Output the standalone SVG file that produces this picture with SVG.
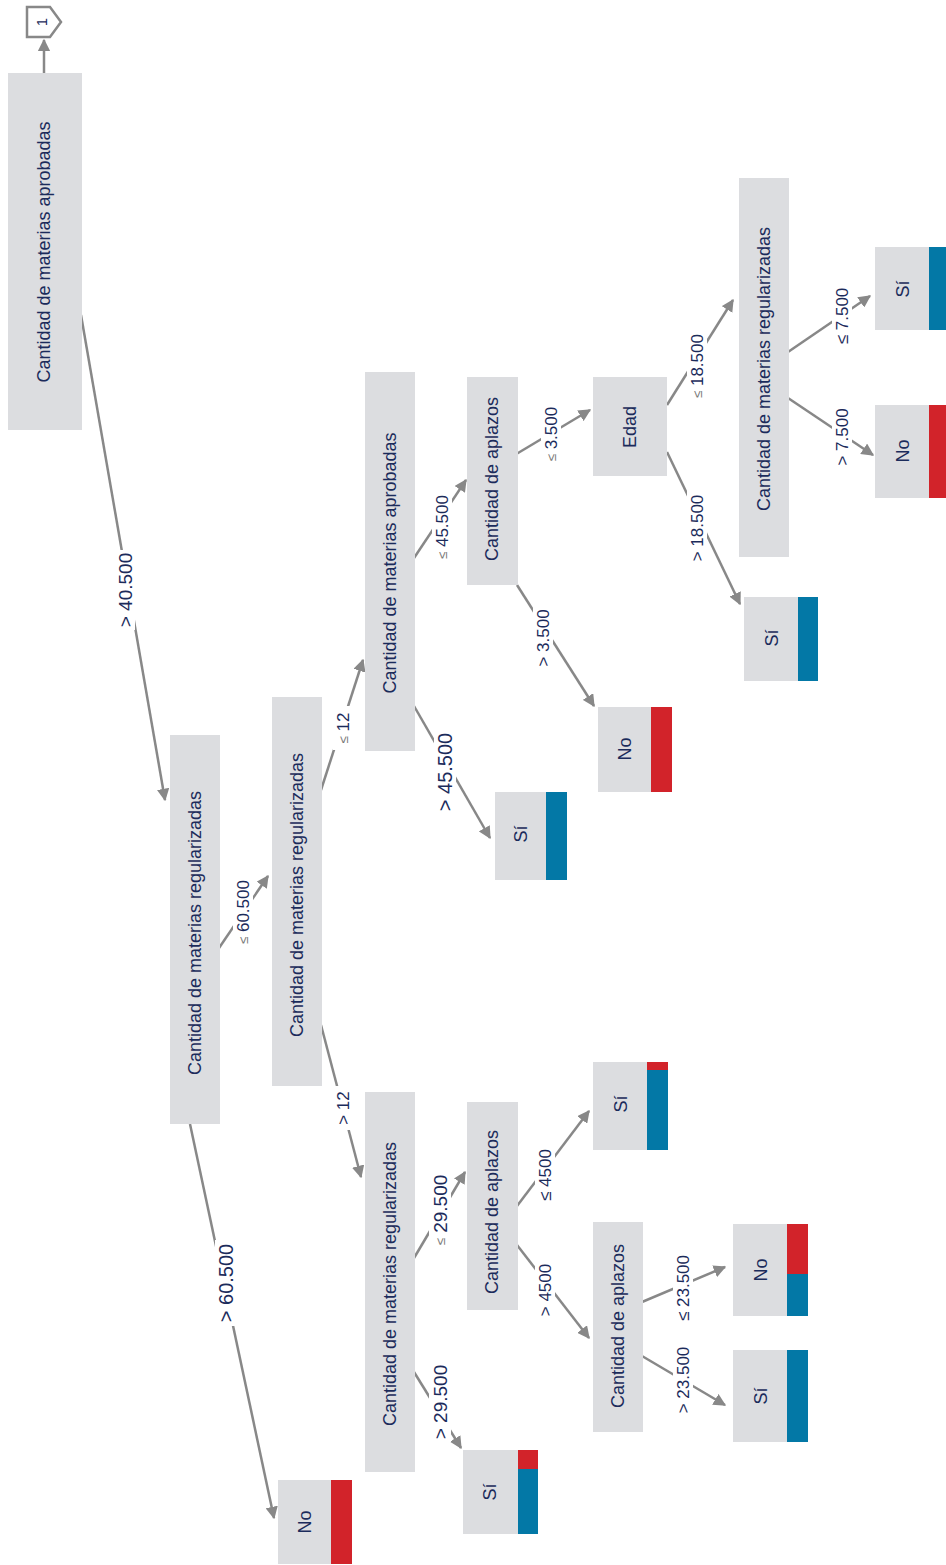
<svg xmlns="http://www.w3.org/2000/svg" width="946" height="1565" viewBox="0 0 946 1565">
<style>
.n{fill:#dcdde0}
.t{font-family:"Liberation Sans",Arial,sans-serif;font-size:18px;fill:#1b2b5b;text-anchor:middle;dominant-baseline:central}
.l{font-family:"Liberation Sans",Arial,sans-serif;font-size:17px;fill:#1b2b5b;text-anchor:middle;dominant-baseline:central}
.g{fill:#777;font-size:13px}
.e{stroke:#888;stroke-width:2.5;fill:none;marker-end:url(#ah)}
.bg{fill:#fff}
.blue{fill:#0378a6}
.red{fill:#d2232a}
</style>
<defs>
<marker id="ah" viewBox="0 0 10 10" refX="9" refY="5" markerWidth="5" markerHeight="5" orient="auto" markerUnits="strokeWidth">
<path d="M0,0 L10,5 L0,10 z" fill="#888"/>
</marker>
</defs>
<rect width="946" height="1565" fill="#fff"/>
<g id="connectors">
<line class="e" x1="44" y1="73" x2="44" y2="40"/>
<line class="e" x1="81" y1="315" x2="165" y2="800"/>
<line class="e" x1="219" y1="948" x2="268" y2="876"/>
<line class="e" x1="190" y1="1124" x2="274" y2="1518"/>
<line class="e" x1="321" y1="790" x2="363" y2="660"/>
<line class="e" x1="321" y1="1025" x2="361" y2="1177"/>
<line class="e" x1="414" y1="558" x2="466" y2="480"/>
<line class="e" x1="414" y1="706" x2="490" y2="838"/>
<line class="e" x1="513" y1="456" x2="590" y2="410"/>
<line class="e" x1="517" y1="585" x2="594" y2="706"/>
<line class="e" x1="667" y1="405" x2="733" y2="300"/>
<line class="e" x1="667" y1="452" x2="740" y2="604"/>
<line class="e" x1="788" y1="352" x2="870" y2="296"/>
<line class="e" x1="788" y1="398" x2="873" y2="455"/>
<line class="e" x1="414" y1="1258" x2="465" y2="1172"/>
<line class="e" x1="414" y1="1372" x2="461" y2="1448"/>
<line class="e" x1="517" y1="1206" x2="589" y2="1111"/>
<line class="e" x1="517" y1="1245" x2="589" y2="1338"/>
<line class="e" x1="642" y1="1302" x2="725" y2="1267"/>
<line class="e" x1="642" y1="1356" x2="725" y2="1405"/>
<g id="labels">
<g transform="translate(125,590) rotate(-90)"><rect class="bg" x="-40" y="-10" width="80" height="20"/><text class="l" style="font-size:19px">&gt; 40.500</text></g>
<g transform="translate(243,912) rotate(-90)"><rect class="bg" x="-40" y="-10" width="80" height="20"/><text class="l"><tspan class="g">≤</tspan> 60.500</text></g>
<g transform="translate(226,1283) rotate(-90)"><rect class="bg" x="-43" y="-11" width="86" height="22"/><text class="l" style="font-size:20px">&gt; 60.500</text></g>
<g transform="translate(343,728) rotate(-90)"><rect class="bg" x="-22" y="-10" width="44" height="20"/><text class="l"><tspan class="g">≤</tspan> 12</text></g>
<g transform="translate(343,1108) rotate(-90)"><rect class="bg" x="-22" y="-10" width="44" height="20"/><text class="l">&gt; 12</text></g>
<g transform="translate(442,527) rotate(-90)"><rect class="bg" x="-40" y="-10" width="80" height="20"/><text class="l"><tspan class="g">≤</tspan> 45.500</text></g>
<g transform="translate(445,772) rotate(-90)"><rect class="bg" x="-43" y="-11" width="86" height="22"/><text class="l" style="font-size:20px">&gt; 45.500</text></g>
<g transform="translate(551,434) rotate(-90)"><rect class="bg" x="-33" y="-10" width="66" height="20"/><text class="l"><tspan class="g">≤</tspan> 3.500</text></g>
<g transform="translate(543,638) rotate(-90)"><rect class="bg" x="-33" y="-10" width="66" height="20"/><text class="l">&gt; 3.500</text></g>
<g transform="translate(697,366) rotate(-90)"><rect class="bg" x="-40" y="-10" width="80" height="20"/><text class="l"><tspan class="g">≤</tspan> 18.500</text></g>
<g transform="translate(697,528) rotate(-90)"><rect class="bg" x="-40" y="-10" width="80" height="20"/><text class="l">&gt; 18.500</text></g>
<g transform="translate(842,316) rotate(-90)"><rect class="bg" x="-33" y="-10" width="66" height="20"/><text class="l">≤ 7.500</text></g>
<g transform="translate(842,437) rotate(-90)"><rect class="bg" x="-33" y="-10" width="66" height="20"/><text class="l">&gt; 7.500</text></g>
<g transform="translate(440,1210) rotate(-90)"><rect class="bg" x="-40" y="-11" width="80" height="22"/><text class="l" style="font-size:19px"><tspan class="g">≤</tspan> 29.500</text></g>
<g transform="translate(440,1402) rotate(-90)"><rect class="bg" x="-40" y="-11" width="80" height="22"/><text class="l" style="font-size:19px">&gt; 29.500</text></g>
<g transform="translate(545,1175) rotate(-90)"><rect class="bg" x="-30" y="-10" width="60" height="20"/><text class="l">≤ 4500</text></g>
<g transform="translate(545,1290) rotate(-90)"><rect class="bg" x="-30" y="-10" width="60" height="20"/><text class="l">&gt; 4500</text></g>
<g transform="translate(683,1288) rotate(-90)"><rect class="bg" x="-38" y="-10" width="76" height="20"/><text class="l">≤ 23.500</text></g>
<g transform="translate(683,1380) rotate(-90)"><rect class="bg" x="-38" y="-10" width="76" height="20"/><text class="l">&gt; 23.500</text></g>
</g>
</g>
<g id="start">
<path d="M27,7 L50,7 L61,22 L50,37 L27,37 Z" fill="#fff" stroke="#888" stroke-width="2.5"/>
<text class="t" style="font-size:15px" transform="translate(41,22) rotate(-90)">1</text>
</g>
<g id="n1"><rect class="n" x="8" y="73" width="74" height="357"/><text class="t" transform="translate(44,252) rotate(-90)">Cantidad de materias aprobadas</text></g>
<g id="n2"><rect class="n" x="170" y="735" width="50" height="389"/><text class="t" transform="translate(195,933) rotate(-90)">Cantidad de materias regularizadas</text></g>
<g id="n3"><rect class="n" x="272" y="697" width="50" height="389"/><text class="t" transform="translate(297,895) rotate(-90)">Cantidad de materias regularizadas</text></g>
<g id="n4"><rect class="n" x="365" y="372" width="50" height="379"/><text class="t" transform="translate(390,563) rotate(-90)">Cantidad de materias aprobadas</text></g>
<g id="n5"><rect class="n" x="467" y="377" width="51" height="208"/><text class="t" transform="translate(492,479) rotate(-90)">Cantidad de aplazos</text></g>
<g id="n6"><rect class="n" x="593" y="377" width="74" height="99"/><text class="t" transform="translate(630,427) rotate(-90)">Edad</text></g>
<g id="n7"><rect class="n" x="739" y="178" width="50" height="379"/><text class="t" transform="translate(764,369) rotate(-90)">Cantidad de materias regularizadas</text></g>
<g id="n8"><rect class="n" x="875" y="247" width="54" height="83"/><rect class="blue" x="929" y="247" width="17" height="83"/><text class="t" transform="translate(903,289) rotate(-90)">Sí</text></g>
<g id="n9"><rect class="n" x="875" y="405" width="54" height="93"/><rect class="red" x="929" y="405" width="17" height="93"/><text class="t" transform="translate(903,451) rotate(-90)">No</text></g>
<g id="n10"><rect class="n" x="744" y="597" width="54" height="84"/><rect class="blue" x="798" y="597" width="20" height="84"/><text class="t" transform="translate(772,638) rotate(-90)">Sí</text></g>
<g id="n11"><rect class="n" x="598" y="707" width="53" height="85"/><rect class="red" x="651" y="707" width="21" height="85"/><text class="t" transform="translate(625,749) rotate(-90)">No</text></g>
<g id="n12"><rect class="n" x="495" y="792" width="51" height="88"/><rect class="blue" x="546" y="792" width="21" height="88"/><text class="t" transform="translate(521,834) rotate(-90)">Sí</text></g>
<g id="n13"><rect class="n" x="365" y="1092" width="50" height="380"/><text class="t" transform="translate(390,1284) rotate(-90)">Cantidad de materias regularizadas</text></g>
<g id="n14"><rect class="n" x="467" y="1102" width="51" height="208"/><text class="t" transform="translate(492,1212) rotate(-90)">Cantidad de aplazos</text></g>
<g id="n15"><rect class="n" x="593" y="1062" width="54" height="88"/><rect class="red" x="647" y="1062" width="21" height="8"/><rect class="blue" x="647" y="1070" width="21" height="80"/><text class="t" transform="translate(621,1104) rotate(-90)">Sí</text></g>
<g id="n16"><rect class="n" x="593" y="1222" width="50" height="210"/><text class="t" transform="translate(618,1326) rotate(-90)">Cantidad de aplazos</text></g>
<g id="n17"><rect class="n" x="733" y="1224" width="54" height="92"/><rect class="red" x="787" y="1224" width="21" height="50"/><rect class="blue" x="787" y="1274" width="21" height="42"/><text class="t" transform="translate(761,1270) rotate(-90)">No</text></g>
<g id="n18"><rect class="n" x="733" y="1350" width="54" height="92"/><rect class="blue" x="787" y="1350" width="21" height="92"/><text class="t" transform="translate(761,1396) rotate(-90)">Sí</text></g>
<g id="n19"><rect class="n" x="463" y="1450" width="55" height="84"/><rect class="red" x="518" y="1450" width="20" height="19"/><rect class="blue" x="518" y="1469" width="20" height="65"/><text class="t" transform="translate(490,1492) rotate(-90)">Sí</text></g>
<g id="n20"><rect class="n" x="278" y="1480" width="53" height="84"/><rect class="red" x="331" y="1480" width="21" height="84"/><text class="t" transform="translate(305,1522) rotate(-90)">No</text></g>
</svg>
